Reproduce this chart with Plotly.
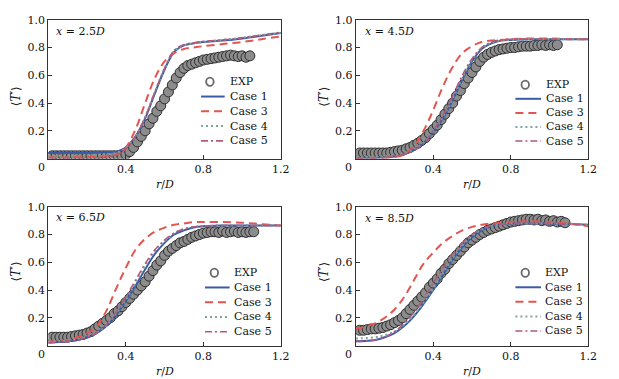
import plotly.graph_objects as go

W, H = 619, 379

# ---------------- data ----------------
PANEL_LABELS = ["2.5", "4.5", "6.5", "8.5"]
SERIES_NAMES = ["EXP", "Case 1", "Case 3", "Case 4", "Case 5"]

# Experimental data (EXP)
R_EXP_1 = [0.02, 0.04, 0.06, 0.08, 0.10, 0.12, 0.14, 0.16, 0.18, 0.20, 0.22, 0.24, 0.26, 0.28, 0.30,
           0.32, 0.34, 0.36, 0.38, 0.40, 0.42, 0.44, 0.46, 0.48, 0.50, 0.52, 0.54, 0.56, 0.58, 0.60,
           0.62, 0.64, 0.66, 0.68, 0.70, 0.72, 0.74, 0.76, 0.78, 0.80, 0.82, 0.84, 0.86, 0.88, 0.90,
           0.92, 0.94, 0.96, 0.98, 1.00, 1.02, 1.04]
T_EXP_1 = [0.02, 0.02, 0.02, 0.02, 0.02, 0.02, 0.02, 0.02, 0.02, 0.02, 0.02, 0.02, 0.02, 0.02, 0.02,
           0.02, 0.02, 0.02, 0.02, 0.03, 0.05, 0.08, 0.12, 0.16, 0.20, 0.25, 0.29, 0.34, 0.38, 0.43,
           0.48, 0.53, 0.58, 0.62, 0.65, 0.67, 0.68, 0.69, 0.70, 0.71, 0.715, 0.72, 0.725, 0.73, 0.735,
           0.74, 0.745, 0.74, 0.735, 0.74, 0.73, 0.74]

R_EXP_2 = R_EXP_1
T_EXP_2 = [0.04, 0.04, 0.04, 0.04, 0.04, 0.04, 0.04, 0.04, 0.045, 0.05, 0.055, 0.06, 0.07, 0.08, 0.095,
           0.11, 0.13, 0.15, 0.18, 0.21, 0.24, 0.28, 0.32, 0.36, 0.40, 0.45, 0.49, 0.54, 0.58, 0.62,
           0.66, 0.70, 0.73, 0.75, 0.765, 0.775, 0.785, 0.79, 0.795, 0.80, 0.80, 0.805, 0.81, 0.81, 0.81,
           0.815, 0.815, 0.82, 0.815, 0.82, 0.815, 0.82]

R_EXP_3 = R_EXP_1 + [1.06]
T_EXP_3 = [0.06, 0.06, 0.06, 0.06, 0.06, 0.065, 0.07, 0.075, 0.08, 0.09, 0.10, 0.12, 0.14, 0.16, 0.18,
           0.20, 0.23, 0.25, 0.28, 0.31, 0.34, 0.37, 0.40, 0.43, 0.46, 0.50, 0.54, 0.58, 0.61, 0.65,
           0.68, 0.70, 0.72, 0.74, 0.75, 0.765, 0.78, 0.79, 0.80, 0.81, 0.815, 0.82, 0.82, 0.815, 0.825,
           0.815, 0.82, 0.825, 0.815, 0.82, 0.815, 0.82, 0.82]

R_EXP_4 = R_EXP_1 + [1.06, 1.08]
T_EXP_4 = [0.11, 0.11, 0.115, 0.12, 0.12, 0.125, 0.13, 0.14, 0.15, 0.165, 0.18, 0.20, 0.23, 0.26, 0.29,
           0.32, 0.35, 0.38, 0.42, 0.45, 0.48, 0.52, 0.55, 0.59, 0.62, 0.65, 0.68, 0.71, 0.74, 0.76,
           0.78, 0.80, 0.815, 0.83, 0.84, 0.85, 0.86, 0.87, 0.88, 0.89, 0.895, 0.90, 0.905, 0.91, 0.91,
           0.905, 0.91, 0.90, 0.905, 0.895, 0.90, 0.89, 0.895, 0.885]

# Simulations
R_CFD_1 = [0, 0.1, 0.2, 0.3, 0.35, 0.4, 0.45, 0.5, 0.55, 0.6, 0.65, 0.7, 0.75, 0.8, 0.9, 1.0, 1.1, 1.2]
CASE1_1 = [0.04, 0.04, 0.04, 0.045, 0.05, 0.08, 0.16, 0.29, 0.47, 0.64, 0.77, 0.815, 0.83, 0.84, 0.85, 0.865, 0.885, 0.905]
CASE3_1 = [0.01, 0.01, 0.015, 0.02, 0.03, 0.08, 0.21, 0.40, 0.58, 0.70, 0.76, 0.79, 0.80, 0.81, 0.825, 0.84, 0.86, 0.88]
CASE4_1 = [0.02, 0.02, 0.025, 0.03, 0.04, 0.075, 0.16, 0.30, 0.48, 0.65, 0.775, 0.815, 0.83, 0.84, 0.855, 0.87, 0.89, 0.905]
CASE5_1 = [0.0, 0.0, 0.005, 0.01, 0.03, 0.07, 0.16, 0.30, 0.48, 0.65, 0.78, 0.82, 0.835, 0.845, 0.855, 0.87, 0.89, 0.91]

R_CFD_2 = [0, 0.1, 0.2, 0.25, 0.3, 0.35, 0.4, 0.45, 0.5, 0.55, 0.6, 0.65, 0.7, 0.75, 0.8, 0.9, 1.0, 1.1, 1.2]
CASE1_2 = [0.0, 0.005, 0.015, 0.03, 0.06, 0.11, 0.19, 0.29, 0.42, 0.57, 0.70, 0.79, 0.83, 0.85, 0.855, 0.86, 0.86, 0.86, 0.86]
CASE3_2 = [0.0, 0.005, 0.01, 0.03, 0.09, 0.20, 0.35, 0.52, 0.66, 0.76, 0.81, 0.84, 0.85, 0.855, 0.86, 0.865, 0.865, 0.86, 0.86]
CASE4_2 = [0.01, 0.012, 0.02, 0.035, 0.065, 0.115, 0.195, 0.30, 0.43, 0.58, 0.71, 0.795, 0.835, 0.85, 0.855, 0.86, 0.86, 0.86, 0.86]
CASE5_2 = [0.0, 0.005, 0.015, 0.03, 0.06, 0.11, 0.20, 0.31, 0.45, 0.60, 0.72, 0.80, 0.84, 0.855, 0.86, 0.86, 0.86, 0.86, 0.86]

R_CFD_3 = [0, 0.1, 0.15, 0.2, 0.25, 0.3, 0.35, 0.4, 0.45, 0.5, 0.55, 0.6, 0.65, 0.7, 0.75, 0.8, 0.9, 1.0, 1.1, 1.2]
CASE1_3 = [0.02, 0.03, 0.04, 0.06, 0.09, 0.14, 0.22, 0.32, 0.43, 0.55, 0.66, 0.74, 0.80, 0.83, 0.85, 0.86, 0.865, 0.865, 0.865, 0.865]
CASE3_3 = [0.03, 0.04, 0.06, 0.09, 0.14, 0.25, 0.41, 0.56, 0.69, 0.77, 0.82, 0.85, 0.87, 0.88, 0.89, 0.89, 0.89, 0.885, 0.875, 0.865]
CASE4_3 = [0.03, 0.035, 0.045, 0.065, 0.095, 0.145, 0.23, 0.33, 0.45, 0.57, 0.68, 0.75, 0.81, 0.84, 0.855, 0.86, 0.865, 0.865, 0.865, 0.865]
CASE5_3 = [0.02, 0.03, 0.04, 0.06, 0.09, 0.15, 0.24, 0.35, 0.47, 0.59, 0.69, 0.76, 0.81, 0.84, 0.855, 0.86, 0.865, 0.865, 0.865, 0.865]

R_CFD_4 = [0, 0.1, 0.15, 0.2, 0.25, 0.3, 0.35, 0.4, 0.45, 0.5, 0.55, 0.6, 0.65, 0.7, 0.75, 0.8, 0.9, 1.0, 1.1, 1.2]
CASE1_4 = [0.03, 0.04, 0.06, 0.09, 0.14, 0.21, 0.30, 0.40, 0.51, 0.62, 0.71, 0.78, 0.83, 0.86, 0.875, 0.88, 0.88, 0.88, 0.875, 0.87]
CASE3_4 = [0.12, 0.16, 0.20, 0.26, 0.35, 0.47, 0.59, 0.67, 0.74, 0.79, 0.83, 0.855, 0.87, 0.88, 0.885, 0.89, 0.895, 0.89, 0.88, 0.86]
CASE4_4 = [0.05, 0.06, 0.075, 0.10, 0.15, 0.22, 0.31, 0.41, 0.52, 0.63, 0.72, 0.79, 0.835, 0.86, 0.875, 0.88, 0.88, 0.88, 0.875, 0.87]
CASE5_4 = [0.03, 0.04, 0.06, 0.10, 0.16, 0.24, 0.34, 0.45, 0.56, 0.66, 0.74, 0.80, 0.84, 0.865, 0.875, 0.88, 0.88, 0.88, 0.875, 0.87]

X_TICKS = [0.4, 0.8, 1.2]
X_TICK_TEXT = ["0.4", "0.8", "1.2"]
Y_TICKS = [0.2, 0.4, 0.6, 0.8, 1.0]
Y_TICK_TEXT = ["0.2", "0.4", "0.6", "0.8", "1.0"]

panels = [
    (R_EXP_1, T_EXP_1, R_CFD_1, CASE1_1, CASE3_1, CASE4_1, CASE5_1),
    (R_EXP_2, T_EXP_2, R_CFD_2, CASE1_2, CASE3_2, CASE4_2, CASE5_2),
    (R_EXP_3, T_EXP_3, R_CFD_3, CASE1_3, CASE3_3, CASE4_3, CASE5_3),
    (R_EXP_4, T_EXP_4, R_CFD_4, CASE1_4, CASE3_4, CASE4_4, CASE5_4),
]

# ---------------- styles & geometry (pixels) ----------------
FONT = "DejaVu Serif"
TXT = "#111"
px_x = lambda v: v / W
px_y = lambda v: 1 - v / H

boxes = [(49, 285, 14, 155), (361, 597, 14, 155), (49, 285, 204, 345), (361, 597, 204, 345)]
# legend: (line start, line end, text start, first row y, row step)
legend_geo = [(204, 228, 231, 77, 15), (523, 549, 552, 80, 14.3),
              (208, 233, 235, 271, 15), (523, 549, 551, 271, 14.8)]
label_pos = [(55, 26), (368, 26), (55, 215), (368, 216)]
ytitle_pos = [(16, 92), (328, 92), (16, 270), (328, 270)]

C1, C3, C4, C5 = "#3b5ba9", "#e25550", "#7fa39a", "#b05a7c"
DASH3, DASH4, DASH5 = "8px,5px", "2px,3px", "7px,3px,2px,3px"
EXP_FILL, EXP_EDGE = "#8c8c8c", "#2e2e2e"

fig = go.Figure()
annotations, shapes = [], []
layout = dict(width=W, height=H, margin=dict(l=0, r=0, t=0, b=0),
              paper_bgcolor="white", plot_bgcolor="white", showlegend=False,
              font=dict(family=FONT, size=11, color=TXT))

line_styles = [(C1, 2, "solid"), (C3, 2, DASH3), (C4, 2, DASH4), (C5, 1.6, DASH5)]

for i, (rx, tx, rc, c1, c3, c4, c5) in enumerate(panels):
    k = i + 1
    xa = "x" if k == 1 else f"x{k}"
    ya = "y" if k == 1 else f"y{k}"
    common = dict(xaxis=xa, yaxis=ya)
    fig.add_trace(go.Scatter(x=rx, y=tx, mode="markers", name="EXP",
                             marker=dict(symbol="circle", size=10, color=EXP_FILL,
                                         line=dict(width=1, color=EXP_EDGE)), **common))
    for name, yv, (col, lw, dsh) in zip(SERIES_NAMES[1:], [c1, c3, c4, c5], line_styles):
        fig.add_trace(go.Scatter(x=rc, y=yv, mode="lines", name=name, line_shape="spline",
                                 line=dict(color=col, width=lw, dash=dsh), **common))

    x0, x1, y0, y1 = boxes[i]
    axkey = "xaxis" if k == 1 else f"xaxis{k}"
    aykey = "yaxis" if k == 1 else f"yaxis{k}"
    axis_common = dict(ticks="inside", ticklen=4, tickcolor="#333", showline=True,
                       linecolor="#333", linewidth=1, mirror=True, showgrid=False,
                       zeroline=False, tickfont=dict(family=FONT, size=11, color=TXT))
    layout[axkey] = dict(domain=[px_x(x0), px_x(x1)], range=[0, 1.2], anchor=ya,
                         tickvals=X_TICKS, ticktext=X_TICK_TEXT, **axis_common)
    layout[aykey] = dict(domain=[px_y(y1), px_y(y0)], range=[0, 1.0], anchor=xa,
                         tickvals=Y_TICKS, ticktext=Y_TICK_TEXT, **axis_common)

    # manual legend
    lx0, lx1, ltx, ly0, lstep = legend_geo[i]
    for j, name in enumerate(SERIES_NAMES):
        yy = ly0 + j * lstep
        if j == 0:
            cx = (lx0 + lx1) / 2 - 3
            shapes.append(dict(type="circle", xref="paper", yref="paper",
                               x0=px_x(cx - 3.8), x1=px_x(cx + 3.8), y0=px_y(yy + 4.2), y1=px_y(yy - 4.2),
                               line=dict(color="#6a6a6a", width=1.8), fillcolor="white"))
        else:
            col, lw, dsh = line_styles[j - 1]
            shapes.append(dict(type="line", xref="paper", yref="paper",
                               x0=px_x(lx0), x1=px_x(lx1), y0=px_y(yy), y1=px_y(yy),
                               line=dict(color=col, width=lw, dash=dsh)))
        annotations.append(dict(text=name, x=px_x(ltx), y=px_y(yy), xref="paper", yref="paper",
                                xanchor="left", yanchor="middle", showarrow=False,
                                font=dict(family=FONT, size=11, color=TXT)))

    # panel label
    ax_, ay_ = label_pos[i]
    annotations.append(dict(text=f"<i>x</i> = {PANEL_LABELS[i]}<i>D</i>", x=px_x(ax_), y=px_y(ay_),
                            xref="paper", yref="paper", xanchor="left", yanchor="middle",
                            showarrow=False, font=dict(family=FONT, size=11, color=TXT)))
    # x title
    annotations.append(dict(text="<i>r</i>/<i>D</i>", x=px_x((x0 + x1) / 2), y=px_y(y1 + 26),
                            xref="paper", yref="paper", xanchor="center", yanchor="middle",
                            showarrow=False, font=dict(family=FONT, size=11, color=TXT)))
    # y title
    tx_, ty_ = ytitle_pos[i]
    annotations.append(dict(text="⟨<i>T</i>′⟩", x=px_x(tx_), y=px_y(ty_), textangle=-90,
                            xref="paper", yref="paper", xanchor="center", yanchor="middle",
                            showarrow=False, font=dict(family=FONT, size=12, color=TXT)))
    # origin label "0"
    annotations.append(dict(text="0", x=px_x(x0 - 7), y=px_y(y1 + 9),
                            xref="paper", yref="paper", xanchor="center", yanchor="middle",
                            showarrow=False, font=dict(family=FONT, size=11, color=TXT)))

layout["annotations"] = annotations
layout["shapes"] = shapes
fig.update_layout(**layout)
fig.write_html("out.html", config={"displayModeBar": False},
               post_script="document.body.style.margin='0';document.body.style.overflow='hidden';")
